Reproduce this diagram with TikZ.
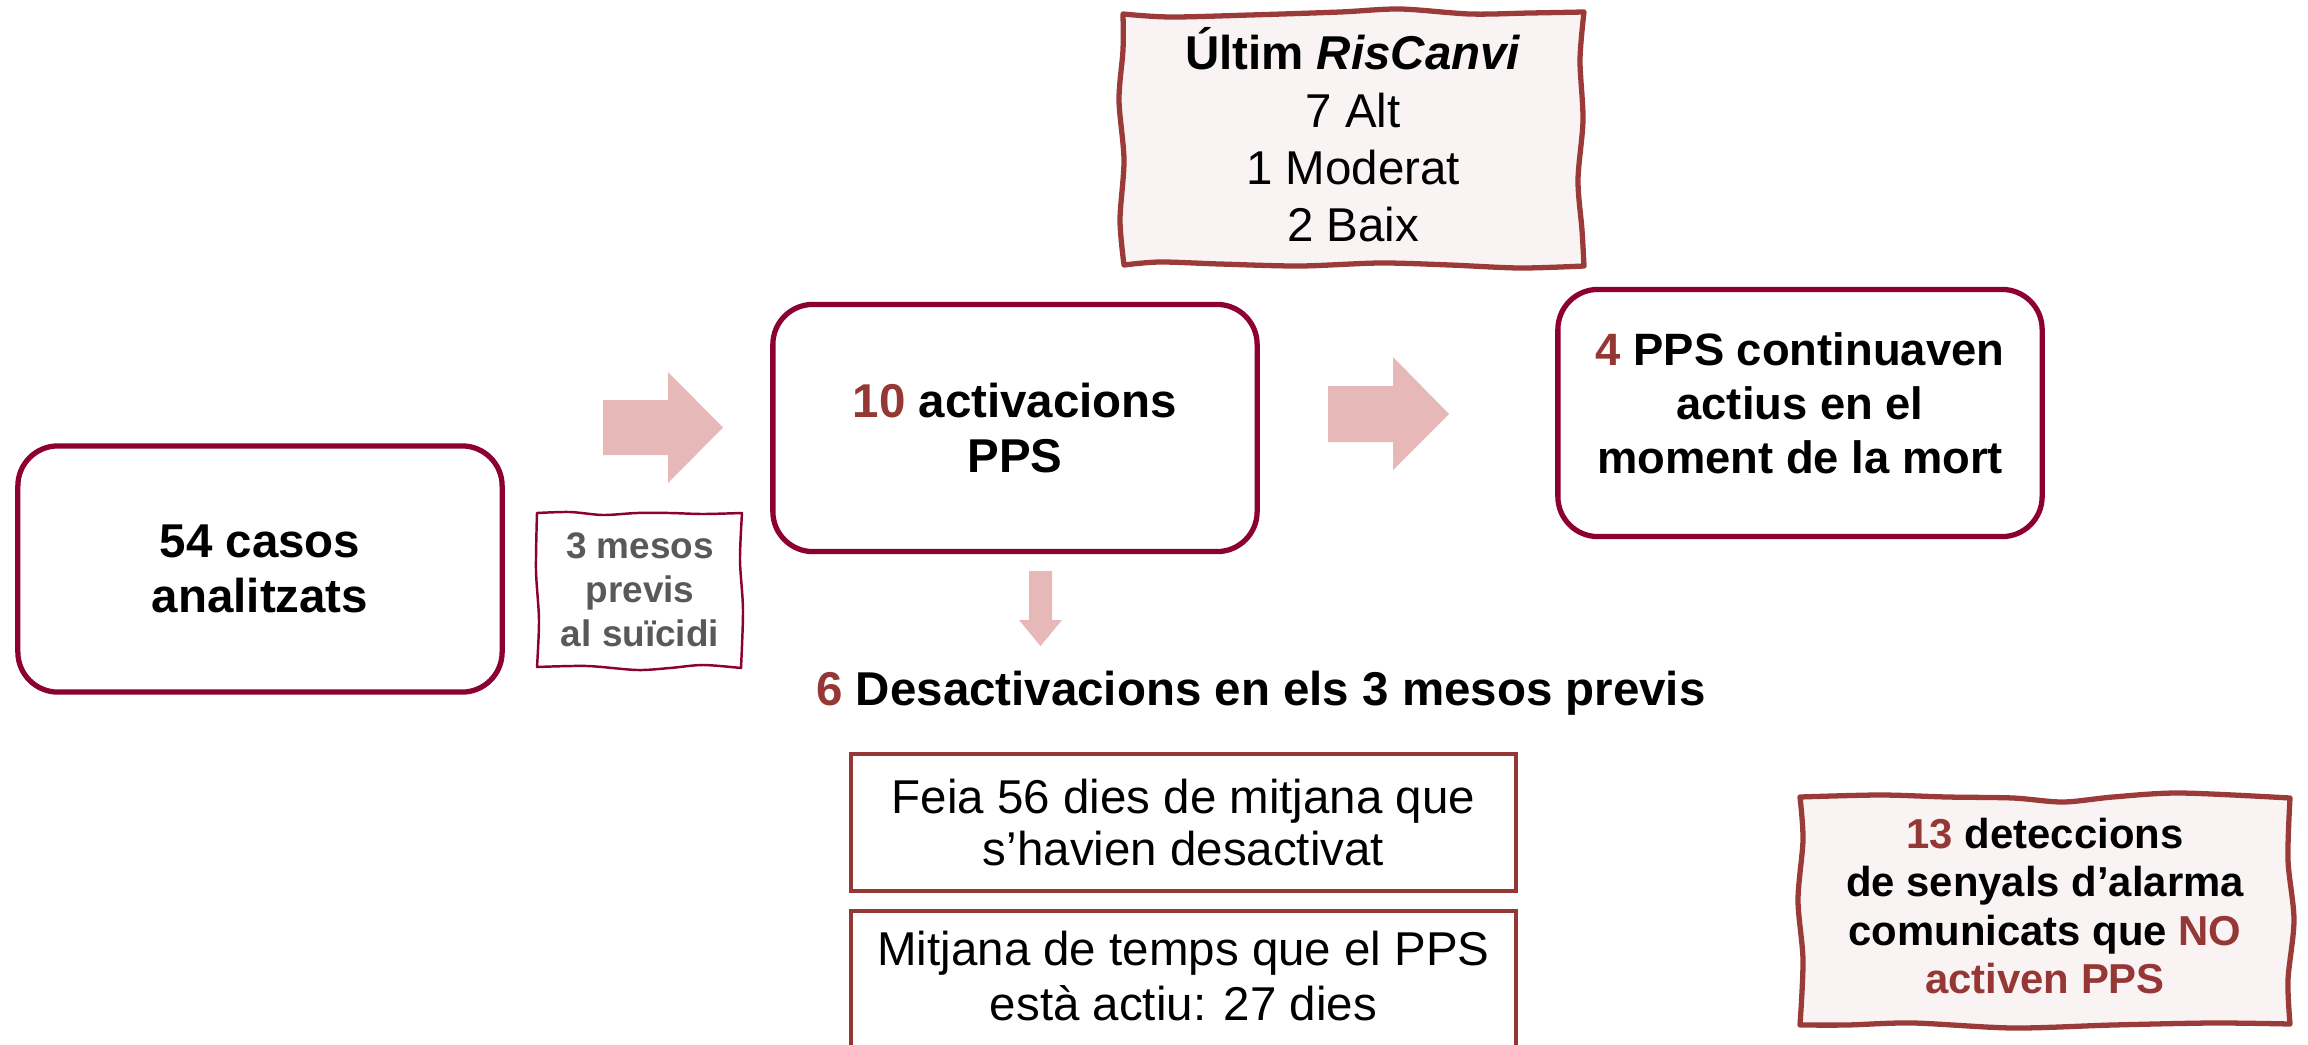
\documentclass[tikz,border=0pt]{standalone}
\usepackage{fontspec}
\setmainfont{Liberation Sans}
\definecolor{crim}{RGB}{140,0,52}
\definecolor{numred}{RGB}{149,55,53}
\definecolor{wavyred}{RGB}{154,59,58}
\definecolor{wavyfill}{RGB}{249,243,243}
\definecolor{arrowpink}{RGB}{230,184,183}
\definecolor{txtgray}{RGB}{89,89,89}
\tikzset{
  rbox/.style={draw=crim, line width=1.5pt, rounded corners=0.4cm, fill=white, align=center, inner sep=0pt,
    font=\bfseries\fontsize{13.5}{15.6}\selectfont},
  sbox/.style={draw=numred, line width=1.2pt, fill=white, align=center, inner sep=0pt,
    font=\fontsize{13.5}{15}\selectfont},
  wavy/.style={draw=wavyred, line width=1.5pt, fill=wavyfill, line join=round},
  thinwavy/.style={draw=crim, line width=0.7pt, fill=white, line join=round},
  blockarrow/.style={fill=arrowpink, draw=none},
  lbl/.style={align=center, inner sep=0pt},
}
\newcommand{\nr}[1]{\textcolor{numred}{#1}}
\begin{document}
\begin{tikzpicture}[x=0.01cm,y=-0.01cm]
\useasboundingbox (0,0) rectangle (2308,1045);
\clip (0,0) rectangle (2308,1045);

% top wavy box
\path[wavy] plot[smooth] coordinates {(1123,14) (1170,17) (1250,15) (1340,12) (1400,9) (1470,14) (1530,13) (1584,12)}
  -- plot[smooth] coordinates {(1584,12) (1580,60) (1583,120) (1578,180) (1582,230) (1584,266)}
  -- plot[smooth] coordinates {(1584,266) (1520,268) (1450,265) (1380,263) (1300,266) (1220,264) (1160,262) (1124,265)}
  -- plot[smooth] coordinates {(1124,265) (1120,220) (1124,160) (1119,100) (1123,50) (1123,14)} -- cycle;
\node[lbl, font=\fontsize{13.5}{16.3}\selectfont] (risc) at (1353,135)
  {\textbf{Últim \textit{RisCanvi}}\\7 Alt\\1 Moderat\\2 Baix};

% main rounded boxes
\node[rbox, minimum width=4.84cm, minimum height=2.46cm] (casos) at (260,569) {54 casos\\analitzats};
\node[rbox, minimum width=4.84cm, minimum height=2.47cm] (act) at (1015,428) {\nr{10} activacions\\PPS};
\node[rbox, minimum width=4.84cm, minimum height=2.47cm] (cont) at (1800,413) {};
\node[lbl, font=\bfseries\fontsize{12.9}{15.3}\selectfont] (conttxt) at (1800,403)
  {\nr{4} PPS continuaven\\actius en el\\moment de la mort};

% 3 mesos wavy box
\path[thinwavy] plot[smooth] coordinates {(537,513) (570,512) (603,515) (637,513) (670,513) (703,514) (742,513)}
  -- plot[smooth] coordinates {(742,513) (740,560) (743,610) (741,668)}
  -- plot[smooth] coordinates {(741,668) (703,665) (670,668) (637,670) (587,666) (537,667)}
  -- plot[smooth] coordinates {(537,667) (539,620) (536,570) (537,513)} -- cycle;
\node[lbl, text=txtgray, font=\bfseries\fontsize{10.5}{12.5}\selectfont] (mesos) at (640,590)
  {3 mesos\\previs\\al suïcidi};

% block arrows
\path[blockarrow] (603,400) -- (668,400) -- (668,372) -- (723,427.5) -- (668,483) -- (668,455) -- (603,455) -- cycle;
\path[blockarrow] (1328,386) -- (1393,386) -- (1393,357) -- (1449,414) -- (1393,470) -- (1393,442) -- (1328,442) -- cycle;
\path[blockarrow] (1029,571) -- (1052,571) -- (1052,620) -- (1062,620) -- (1040.5,646) -- (1019,620) -- (1029,620) -- cycle;

% deactivations
\node[lbl, font=\bfseries\fontsize{13.5}{15.6}\selectfont] (desact) at (1261,693)
  {\nr{6} Desactivacions en els 3 mesos previs};
\node[sbox, minimum width=6.65cm, minimum height=1.37cm] (feia) at (1183.5,822.5)
  {Feia 56 dies de mitjana que\\s’havien desactivat};
\node[sbox, minimum width=6.65cm, minimum height=1.50cm] (mitj) at (1183.5,986) {};
\node[lbl, font=\fontsize{13.5}{15.6}\selectfont] (mitjtxt) at (1183.5,976)
  {Mitjana de temps que el PPS\\està actiu: 27 dies};

% bottom-right wavy box
\path[wavy] plot[smooth] coordinates {(1800,797) (1880,795) (1947,797) (2013,798) (2063,802) (2113,797) (2180,793) (2290,798)}
  -- plot[smooth] coordinates {(2290,798) (2288,860) (2294,920) (2288,980) (2290,1024)}
  -- plot[smooth] coordinates {(2290,1024) (2213,1023) (2113,1025) (2013,1028) (1913,1023) (1847,1025) (1800,1025)}
  -- plot[smooth] coordinates {(1800,1025) (1803,960) (1798,900) (1803,840) (1800,797)} -- cycle;
\node[lbl, font=\bfseries\fontsize{11.9}{13.8}\selectfont] (alarm) at (2045,906)
  {\nr{13} deteccions\\de senyals d’alarma\\comunicats que \nr{NO}\\\nr{activen PPS}};
\end{tikzpicture}
\end{document}
